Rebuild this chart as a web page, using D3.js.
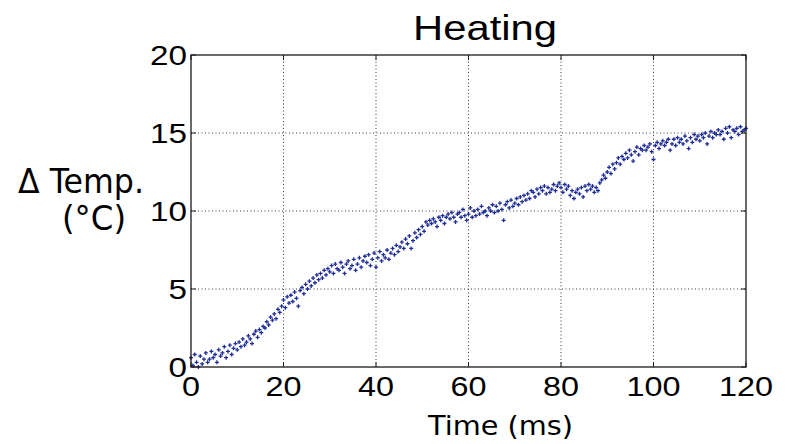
<!DOCTYPE html>
<html><head><meta charset="utf-8">
<script src="https://cdn.jsdelivr.net/npm/d3@7"></script>
<style>html,body{margin:0;padding:0;background:#fff;}</style>
</head><body>
<svg id="chart" width="789" height="444"></svg>
<script>
// ---- data ----
const chartTitle = "Heating";
const xLabel = "Time (ms)";
const yLabelLines = ["\u0394 Temp.", "(\u00B0C)"];
const xTicks = [0, 20, 40, 60, 80, 100, 120];
const yTicks = [0, 5, 10, 15, 20];

const timeMs = [
0,0.4,0.8,1.2,1.6, 2,2.4,2.8,3.2,3.6, 4,4.4,4.8,5.2,5.6, 6,6.4,6.8,7.2,7.6, 8,8.4,8.8,9.2,9.6,
10,10.4,10.8,11.2,11.6, 12,12.4,12.8,13.2,13.6, 14,14.4,14.8,15.2,15.6, 16,16.4,16.8,17.2,17.6, 18,18.4,18.8,19.2,19.6,
20,20.4,20.8,21.2,21.6, 22,22.4,22.8,23.2,23.6, 24,24.4,24.8,25.2,25.6, 26,26.4,26.8,27.2,27.6, 28,28.4,28.8,29.2,29.6,
30,30.4,30.8,31.2,31.6, 32,32.4,32.8,33.2,33.6, 34,34.4,34.8,35.2,35.6, 36,36.4,36.8,37.2,37.6, 38,38.4,38.8,39.2,39.6,
40,40.4,40.8,41.2,41.6, 42,42.4,42.8,43.2,43.6, 44,44.4,44.8,45.2,45.6, 46,46.4,46.8,47.2,47.6, 48,48.4,48.8,49.2,49.6,
50,50.4,50.8,51.2,51.6, 52,52.4,52.8,53.2,53.6, 54,54.4,54.8,55.2,55.6, 56,56.4,56.8,57.2,57.6, 58,58.4,58.8,59.2,59.6,
60,60.4,60.8,61.2,61.6, 62,62.4,62.8,63.2,63.6, 64,64.4,64.8,65.2,65.6, 66,66.4,66.8,67.2,67.6, 68,68.4,68.8,69.2,69.6,
70,70.4,70.8,71.2,71.6, 72,72.4,72.8,73.2,73.6, 74,74.4,74.8,75.2,75.6, 76,76.4,76.8,77.2,77.6, 78,78.4,78.8,79.2,79.6,
80,80.4,80.8,81.2,81.6, 82,82.4,82.8,83.2,83.6, 84,84.4,84.8,85.2,85.6, 86,86.4,86.8,87.2,87.6, 88,88.4,88.8,89.2,89.6,
90,90.4,90.8,91.2,91.6, 92,92.4,92.8,93.2,93.6, 94,94.4,94.8,95.2,95.6, 96,96.4,96.8,97.2,97.6, 98,98.4,98.8,99.2,99.6,
100,100.4,100.8,101.2,101.6, 102,102.4,102.8,103.2,103.6, 104,104.4,104.8,105.2,105.6, 106,106.4,106.8,107.2,107.6, 108,108.4,108.8,109.2,109.6,
110,110.4,110.8,111.2,111.6, 112,112.4,112.8,113.2,113.6, 114,114.4,114.8,115.2,115.6, 116,116.4,116.8,117.2,117.6, 118,118.4,118.8,119.2,119.6,
120
];

const deltaTemp = [
0.6,0.1,0.8,0.3,0.0, 0.7,0.2,0.5,0.9,0.3, 0.5,1.0,0.6,0.8,0.3, 1.1,0.7,0.9,1.3,0.6, 1.0,1.4,0.8,1.2,1.5,
1.1,1.6,1.3,1.8,1.4, 1.6,2.0,1.8,1.5,2.1, 2.3,1.9,2.4,2.2,2.6, 2.5,2.9,2.7,3.2,3.0, 3.4,3.1,3.7,3.5,3.9,
4.3,3.8,4.5,4.1,4.6, 4.2,4.8,4.4,3.9,4.9, 5.1,4.7,5.3,5.0,5.5, 5.2,5.7,5.4,5.9,5.6, 6.0,5.7,6.2,5.9,6.3,
6.1,6.5,6.0,6.6,6.3, 6.2,6.7,6.4,6.0,6.6, 6.8,6.3,6.5,6.9,6.2, 6.6,7.0,6.4,6.8,7.1, 6.7,7.2,6.5,6.9,7.3,
6.4,7.0,7.4,6.8,7.2, 7.0,7.5,6.9,7.3,7.6, 7.2,7.8,7.4,7.7,8.0, 7.6,8.2,7.9,8.4,7.6, 8.1,8.6,8.3,8.8,8.5,
9.0,8.7,9.3,9.1,9.4, 9.2,9.5,9.3,9.0,9.6, 9.4,9.7,9.2,9.6,9.8, 9.5,9.9,9.6,9.3,9.8, 9.9,9.6,10.1,9.7,9.4,
9.8,10.2,9.6,10.0,9.7, 10.1,9.8,10.3,9.9,10.0, 9.7,10.2,10.0,10.4,9.9, 10.3,10.0,10.5,10.1,9.4, 10.4,10.6,10.2,10.7,10.3,
10.5,10.8,10.4,10.9,10.6, 11.0,10.7,11.1,10.8,11.3, 11.2,10.9,11.4,11.1,11.5, 11.3,11.6,11.1,11.5,11.2, 11.4,11.7,11.3,11.6,11.8,
11.5,11.2,11.7,11.4,11.6, 11.0,11.3,10.8,11.2,11.4, 11.1,11.5,10.9,11.6,11.3, 11.7,11.4,11.6,11.2,11.5, 11.3,11.8,12.0,12.3,12.1,
12.5,12.8,12.4,13.0,12.7, 13.1,13.4,13.0,13.5,13.3, 13.7,13.4,13.9,13.6,13.2, 13.8,14.1,13.6,14.0,13.9, 14.2,13.9,14.1,14.3,13.8,
13.3,14.2,14.4,14.0,14.3, 14.5,14.2,14.4,14.6,13.9, 14.3,14.6,14.2,14.7,14.4, 14.6,14.3,14.8,14.5,14.0, 14.7,14.4,14.9,14.6,14.8,
14.5,14.9,14.7,15.0,14.3, 14.8,15.1,14.7,15.0,14.9, 15.2,14.9,15.1,14.6,15.3, 15.0,15.4,14.7,15.2,15.1, 15.3,14.9,15.4,15.1,15.2,
15.3
];

// ---- drawing ----
const svg = d3.select("#chart");
svg.append("rect").attr("width", 789).attr("height", 444).attr("fill", "#fff");

const x = d3.scaleLinear().domain([0, 120]).range([191, 746]);
const y = d3.scaleLinear().domain([0, 20]).range([367, 55]);

const axisColor = "#1a1a1a";
const gridColor = "#3a3a3a";

// grid
const grid = svg.append("g");
grid.selectAll("line.vg").data(xTicks.slice(1, -1)).enter().append("line")
  .attr("x1", d => x(d)).attr("x2", d => x(d))
  .attr("y1", y(0)).attr("y2", y(20))
  .attr("stroke", gridColor).attr("stroke-width", 1).attr("stroke-dasharray", "1,2.5");
grid.selectAll("line.hg").data(yTicks.slice(1, -1)).enter().append("line")
  .attr("x1", x(0)).attr("x2", x(120))
  .attr("y1", d => y(d)).attr("y2", d => y(d))
  .attr("stroke", gridColor).attr("stroke-width", 1).attr("stroke-dasharray", "1,2.5");

// points
const pts = d3.range(timeMs.length).map(i => ({t: timeMs[i], v: deltaTemp[i]}));
svg.append("g").selectAll("path").data(pts).enter().append("path")
  .attr("d", d => {
    const px = x(d.t), py = y(d.v);
    return `M${px-2},${py}H${px+2}M${px},${py-2}V${py+2}`;
  })
  .attr("stroke", "#1f2e96").attr("stroke-width", 1.3).attr("fill", "none");

// frame
svg.append("rect").attr("x", x(0)).attr("y", y(20))
  .attr("width", x(120) - x(0)).attr("height", y(0) - y(20))
  .attr("fill", "none").attr("stroke", axisColor).attr("stroke-width", 1.3);

// inward ticks
const tk = 5;
const ticks = svg.append("g").attr("stroke", axisColor).attr("stroke-width", 1);
xTicks.forEach(t => {
  ticks.append("line").attr("x1", x(t)).attr("x2", x(t)).attr("y1", y(0)).attr("y2", y(0) - tk);
  ticks.append("line").attr("x1", x(t)).attr("x2", x(t)).attr("y1", y(20)).attr("y2", y(20) + tk);
});
yTicks.forEach(v => {
  ticks.append("line").attr("x1", x(0)).attr("x2", x(0) + tk).attr("y1", y(v)).attr("y2", y(v));
  ticks.append("line").attr("x1", x(120)).attr("x2", x(120) - tk).attr("y1", y(v)).attr("y2", y(v));
});

// tick labels
const tickFont = "'Liberation Sans', Arial, sans-serif";
svg.append("g").selectAll("text").data(xTicks).enter().append("text")
  .attr("x", d => x(d)).attr("y", 396)
  .attr("text-anchor", "middle")
  .attr("font-family", tickFont).attr("font-size", 27)
  .attr("textLength", d => String(d).length * 18).attr("lengthAdjust", "spacingAndGlyphs")
  .attr("fill", "#000").text(d => d);
svg.append("g").selectAll("text").data(yTicks).enter().append("text")
  .attr("x", 187).attr("y", d => y(d) + 9.5)
  .attr("text-anchor", "end")
  .attr("font-family", tickFont).attr("font-size", 27)
  .attr("textLength", d => String(d).length * 18.5).attr("lengthAdjust", "spacingAndGlyphs")
  .attr("fill", "#000").text(d => d);

// title
svg.append("text").attr("x", 413).attr("y", 40)
  .attr("font-family", tickFont).attr("font-size", 35)
  .attr("textLength", 144).attr("lengthAdjust", "spacingAndGlyphs")
  .attr("fill", "#000").text(chartTitle);

// axis labels
const labelFont = "'DejaVu Sans', Verdana, sans-serif";
svg.append("text").attr("x", 428).attr("y", 435)
  .attr("font-family", labelFont).attr("font-size", 27)
  .attr("textLength", 145).attr("lengthAdjust", "spacingAndGlyphs")
  .attr("fill", "#000").text(xLabel);
svg.append("text").attr("x", 18).attr("y", 193)
  .attr("font-family", labelFont).attr("font-size", 33)
  .attr("textLength", 126).attr("lengthAdjust", "spacingAndGlyphs")
  .attr("fill", "#000").text(yLabelLines[0]);
svg.append("text").attr("x", 62).attr("y", 230)
  .attr("font-family", labelFont).attr("font-size", 33)
  .attr("textLength", 64).attr("lengthAdjust", "spacingAndGlyphs")
  .attr("fill", "#000").text(yLabelLines[1]);
</script>
</body></html>
